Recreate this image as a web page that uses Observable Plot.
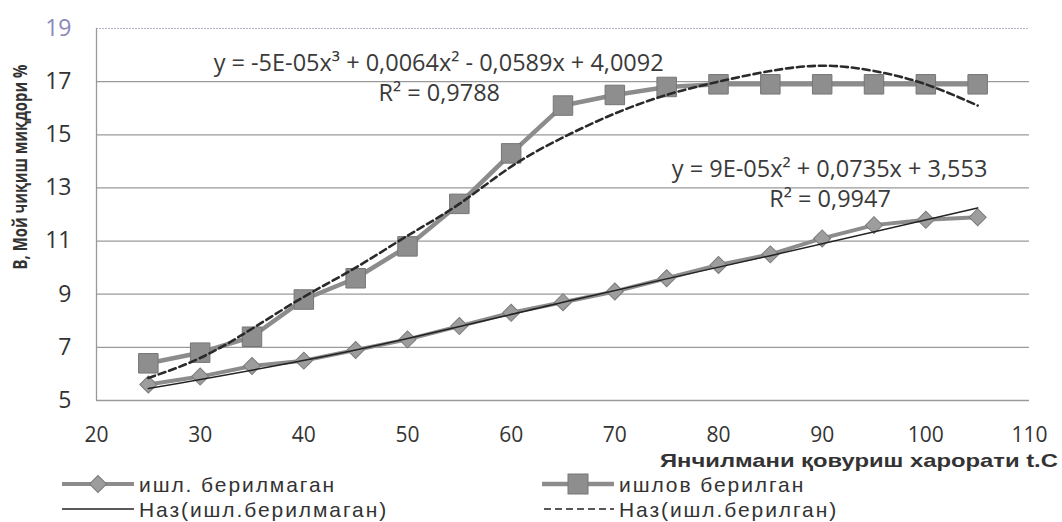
<!DOCTYPE html>
<html>
<head>
<meta charset="utf-8">
<script src="https://cdn.jsdelivr.net/npm/d3@7"></script>
<script src="https://cdn.jsdelivr.net/npm/@observablehq/plot@0.6"></script>
<style>
  html, body { margin: 0; padding: 0; background: #fff; }
  #wrap { position: relative; width: 1062px; height: 522px; font-family: "Open Sans", sans-serif; color: #333; overflow: hidden; }
  #ytitle { position: absolute; left: 20px; top: 167px; white-space: nowrap; font-family: "Open Sans", sans-serif; font-weight: bold; font-size: 19px; color: #333; line-height: 1; }
  #xtitle { position: absolute; right: 4px; top: 451px; white-space: nowrap; font-family: "Liberation Sans", Arial, sans-serif; font-weight: bold; font-size: 19px; color: #333; line-height: 1; transform-origin: right center; }
  .leg { position: absolute; font-family: "Liberation Sans", Arial, sans-serif; font-size: 21px; color: #333; white-space: nowrap; display: flex; align-items: center; line-height: 1; }
  .leg svg { margin-right: 5px; }
</style>
</head>
<body>
<div id="wrap">
  <div id="chart"></div>
  <div id="ytitle"></div>
  <div id="xtitle"></div>
</div>
<script>
// ---- data ----
const temps = [25, 30, 35, 40, 45, 50, 55, 60, 65, 70, 75, 80, 85, 90, 95, 100, 105];
const untreated = [5.6, 5.9, 6.3, 6.5, 6.9, 7.3, 7.8, 8.3, 8.7, 9.1, 9.6, 10.1, 10.5, 11.1, 11.6, 11.8, 11.9];
const treated = [6.4, 6.8, 7.4, 8.8, 9.6, 10.8, 12.4, 14.3, 16.1, 16.5, 16.8, 16.9, 16.9, 16.9, 16.9, 16.9, 16.9];
// trend lines
const trendTreated = [5.85, 6.6, 7.7, 8.9, 10.0, 11.2, 12.4, 13.8, 14.9, 15.8, 16.5, 17.0, 17.4, 17.6, 17.4, 16.9, 16.1];
const trendUntreatedX = [25, 45, 65, 85, 105];
const trendUntreated = [5.45, 6.9, 8.7, 10.45, 12.25];
const yTicks = [5, 7, 9, 11, 13, 15, 17, 19];
const xTicks = [20, 30, 40, 50, 60, 70, 80, 90, 100, 110];
const seriesNames = ["ишл. берилмаган", "ишлов берилган", "Наз(ишл.берилмаган)", "Наз(ишл.берилган)"];
const xTitle = "Янчилмани қовуриш харорати t.C";
const yTitle = "В, Мой чиқиш миқдори %";
const eqTexts = ["y = -5E-05x³ + 0,0064x² - 0,0589x + 4,0092", "R² = 0,9788", "y = 9E-05x² + 0,0735x + 3,553", "R² = 0,9947"];
const eqX = [31.3, 47.2, 75.5, 84.9];
const eqY = [17.7, 16.55, 13.7, 12.55];

const rowsU = temps.map((t, i) => ({x: t, y: untreated[i]}));
const rowsT = temps.map((t, i) => ({x: t, y: treated[i]}));
const rowsTT = temps.map((t, i) => ({x: t, y: trendTreated[i]}));
const rowsTU = trendUntreatedX.map((t, i) => ({x: t, y: trendUntreated[i]}));
const eqs = eqTexts.map((s, i) => ({s, x: eqX[i], y: eqY[i]}));

const chart = Plot.plot({
  width: 1062,
  height: 450,
  marginLeft: 96,
  marginRight: 33,
  marginTop: 28,
  marginBottom: 50,
  style: {fontFamily: "'Open Sans', sans-serif", fontSize: "21px", color: "#333", background: "#fff", overflow: "visible"},
  x: {domain: [20, 110]},
  y: {domain: [5, 19]},
  marks: [
    Plot.gridY(yTicks.filter(d => d !== 19), {stroke: "#9a9a9a", strokeOpacity: 1, strokeWidth: 1.3}),
    Plot.gridY([19], {stroke: "#b4b4c8", strokeOpacity: 1, strokeWidth: 1, strokeDasharray: "2,1"}),
    Plot.ruleX([20], {stroke: "#9a9a9a", strokeWidth: 1.3}),
    Plot.axisY({ticks: yTicks, tickSize: 0, tickPadding: 25, label: null, fontSize: 23, fill: (d) => d === 19 ? "#8a88b8" : "#333"}),
    Plot.axisX({ticks: xTicks, tickSize: 0, tickPadding: 27, label: null, fontSize: 21}),
    Plot.line(rowsU, {x: "x", y: "y", stroke: "#8c8c8c", strokeWidth: 4}),
    Plot.line(rowsT, {x: "x", y: "y", stroke: "#8c8c8c", strokeWidth: 4.5}),
    Plot.dot(rowsU, {x: "x", y: "y", symbol: "square", r: 6.8, rotate: 45, fill: "#9d9d9d", stroke: "#7a7a7a", strokeWidth: 1}),
    Plot.dot(rowsT, {x: "x", y: "y", symbol: "square", r: 11, fill: "#8e8e8e", stroke: "#767676", strokeWidth: 1}),
    Plot.line(rowsTU, {x: "x", y: "y", stroke: "#222", strokeWidth: 1.5, curve: "natural"}),
    Plot.line(rowsTT, {x: "x", y: "y", stroke: "#2a2a2a", strokeWidth: 2.6, strokeDasharray: "7,4", curve: "natural"}),
    Plot.text(eqs, {x: "x", y: "y", text: "s", textAnchor: "start", fontSize: 23.5, fill: "#3a3a3a"})
  ]
});
document.getElementById("chart").appendChild(chart);

// x-axis title below the SVG, right-aligned, fit to its reference length
const xt = document.getElementById("xtitle");
xt.textContent = xTitle;
xt.style.transform = `scale(${398 / xt.offsetWidth}, 1)`;

// y-axis title, rotated and fit to its reference length
const yt = document.getElementById("ytitle");
yt.textContent = yTitle;
yt.style.transform = `translate(-50%, -50%) rotate(-90deg) scale(${205 / yt.offsetWidth}, 1)`;

// legend
const wrap = document.getElementById("wrap");
const spans = [];
function legendItem(left, cy, name, kind) {
  const div = document.createElement("div");
  div.className = "leg";
  div.style.left = left + "px";
  div.style.top = (cy - 11) + "px";
  let svg = '<svg width="72" height="22" viewBox="0 0 72 22">';
  if (kind === "diamond") {
    svg += '<line x1="0" y1="11" x2="72" y2="11" stroke="#8c8c8c" stroke-width="4"/>';
    svg += '<rect x="30" y="5" width="12" height="12" fill="#9d9d9d" stroke="#7a7a7a" transform="rotate(45 36 11)"/>';
  } else if (kind === "square") {
    svg += '<line x1="0" y1="11" x2="72" y2="11" stroke="#8c8c8c" stroke-width="4.5"/>';
    svg += '<rect x="26" y="1" width="20" height="20" fill="#8e8e8e" stroke="#767676"/>';
  } else if (kind === "solid") {
    svg += '<line x1="0" y1="11" x2="72" y2="11" stroke="#222" stroke-width="1.5"/>';
  } else {
    svg += '<line x1="2" y1="11" x2="72" y2="11" stroke="#222" stroke-width="1.5" stroke-dasharray="7,4"/>';
  }
  svg += '</svg>';
  div.innerHTML = svg;
  const span = document.createElement("span");
  span.textContent = name;
  div.appendChild(span);
  wrap.appendChild(div);
  spans.push(span);
}
legendItem(62, 484, seriesNames[0], "diamond");
legendItem(542, 484, seriesNames[1], "square");
legendItem(62, 509, seriesNames[2], "solid");
legendItem(542, 509, seriesNames[3], "dashed");
// widen letter spacing so the first entry spans its reference width
const w0 = spans[0].getBoundingClientRect().width;
const ls = Math.max(0, (197 - w0) / seriesNames[0].length);
spans.forEach(s => s.style.letterSpacing = ls + "px");
</script>
</body>
</html>
